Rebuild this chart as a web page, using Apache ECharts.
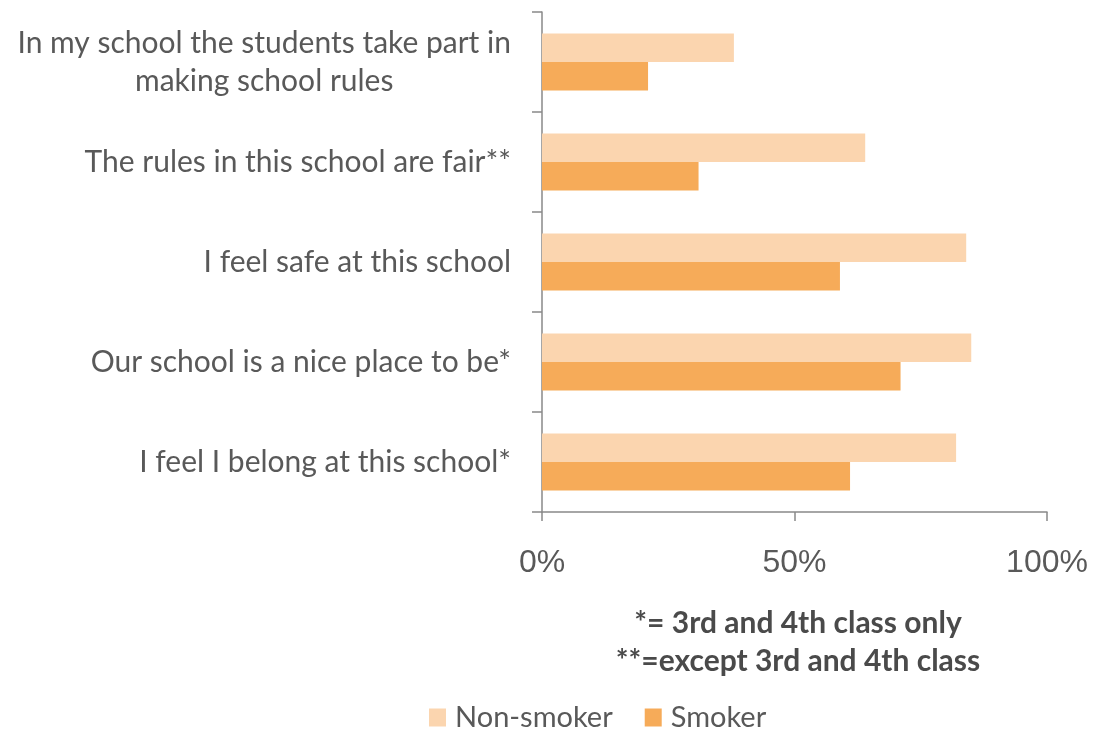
<!DOCTYPE html>
<html>
<head>
<meta charset="utf-8">
<script src="https://cdn.jsdelivr.net/npm/echarts@6/dist/echarts.min.js"></script>
<style>
  html, body { margin: 0; padding: 0; background: #ffffff; }
  #chart { width: 1093px; height: 734px; }
</style>
</head>
<body>
<div id="chart"></div>
<script>
// School climate statements, listed top to bottom
const categories = [
  'In my school the students take part in\nmaking school rules',
  'The rules in this school are fair**',
  'I feel safe at this school',
  'Our school is a nice place to be*',
  'I feel I belong at this school*'
];
// Share agreeing (%)
const nonSmoker = [38, 64, 84, 85, 82];
const smoker = [21, 31, 59, 71, 61];
const seriesNames = ['Non-smoker', 'Smoker'];
const xTicks = [0, 50, 100];
const footnotes = ['*= 3rd and 4th class only', '**=except 3rd and 4th class'];

const labelFont = 'Lato, "Open Sans", sans-serif';
const textColor = '#595959';
const axisColor = '#898989';

const chart = echarts.init(document.getElementById('chart'), null, { renderer: 'canvas' });

chart.setOption({
  animation: false,
  backgroundColor: '#ffffff',
  color: ['#FBD5AF', '#F6AB59'],
  grid: { left: 542, right: 46, top: 12, bottom: 222, containLabel: false },
  xAxis: {
    type: 'value',
    min: xTicks[0],
    max: xTicks[xTicks.length - 1],
    interval: xTicks[1] - xTicks[0],
    splitLine: { show: false },
    axisLine: { show: true, lineStyle: { color: axisColor, width: 1.5 } },
    axisTick: { show: true, length: 9, lineStyle: { color: axisColor, width: 1.5 } },
    axisLabel: {
      formatter: '{value}%',
      color: textColor,
      fontFamily: '"Liberation Sans", Arial, sans-serif',
      fontSize: 32,
      margin: 35
    }
  },
  yAxis: {
    type: 'category',
    inverse: true,
    data: categories,
    axisLine: { show: true, lineStyle: { color: axisColor, width: 1.5 } },
    axisTick: { show: true, length: 10, lineStyle: { color: axisColor, width: 1.5 } },
    axisLabel: {
      margin: 31,
      formatter: function (v) {
        return v.split('\n').map(function (s) { return '{c|' + s + '}'; }).join('\n');
      },
      rich: {
        c: {
          align: 'center',
          color: textColor,
          fontFamily: labelFont,
          fontSize: 30,
          lineHeight: 38
        }
      }
    }
  },
  legend: {
    data: seriesNames,
    left: 424,
    top: 698,
    itemWidth: 17,
    itemHeight: 18,
    itemGap: 32,
    icon: 'rect',
    textStyle: {
      color: textColor,
      fontFamily: labelFont,
      fontSize: 29,
      padding: [0, 0, 0, 4]
    }
  },
  graphic: [
    {
      type: 'text',
      x: 798,
      y: 642,
      style: {
        text: footnotes.join('\n'),
        textAlign: 'center',
        textVerticalAlign: 'middle',
        fill: '#4a4a4a',
        font: 'bold 30px ' + labelFont,
        lineHeight: 38
      }
    }
  ],
  series: [
    {
      name: seriesNames[0],
      type: 'bar',
      data: nonSmoker,
      barGap: '0%',
      barCategoryGap: '43%'
    },
    {
      name: seriesNames[1],
      type: 'bar',
      data: smoker,
      barGap: '0%',
      barCategoryGap: '43%'
    }
  ]
});
</script>
</body>
</html>
